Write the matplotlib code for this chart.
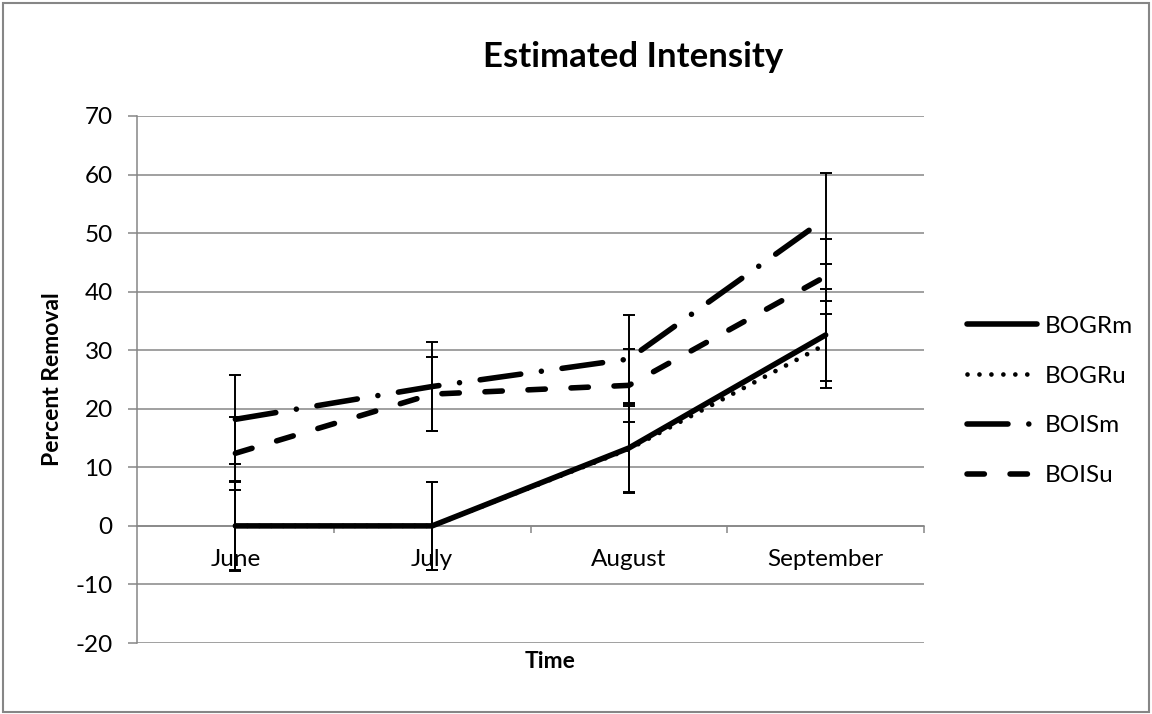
import matplotlib
matplotlib.use('Agg')
import matplotlib.pyplot as plt
from matplotlib.patches import Rectangle

months = ['June', 'July', 'August', 'September']
bogrm = [0, 0, 13.3, 32.6]
bogrm_err = [7.5, 7.5, 7.6, 7.8]
bogru = [0, 0, 13.1, 31.0]
bogru_err = [7.7, 7.5, 7.3, 7.4]
boism = [18.2, 23.8, 28.5, 52.5]
boism_err = [7.6, 7.6, 7.5, 7.7]
boisu = [12.4, 22.5, 24.0, 42.6]
boisu_err = [6.2, 6.3, 6.2, 6.4]
yticks = list(range(-20, 71, 10))

plt.rcParams['font.family'] = ['Lato', 'DejaVu Sans']
plt.rcParams['lines.scale_dashes'] = False

W, H = 1152, 714
fig = plt.figure(figsize=(W / 100, H / 100), dpi=100)
ax = fig.add_axes([137 / W, 1 - 643 / H, (924 - 137) / W, (643 - 116) / H])
x = list(range(len(months)))
grey = '#868686'
fs = 17.5

# error bars first, lines on top
for vals, err in [(bogrm, bogrm_err), (bogru, bogru_err), (boism, boism_err), (boisu, boisu_err)]:
    ax.errorbar(x, vals, yerr=err, fmt='none', ecolor='black', elinewidth=1.4,
                capsize=4.5, capthick=1.4, zorder=3)

ax.plot(x, bogrm, color='black', lw=4.0, solid_capstyle='round', label='BOGRm', zorder=4)
ax.plot(x, bogru, color='black', lw=3.4, dashes=(0.01, 8.6), dash_capstyle='round',
        label='BOGRu', zorder=5)
ax.plot(x, boism, color='black', lw=4.0, dashes=(29.5, 15, 0.01, 15), dash_capstyle='round',
        label='BOISm', zorder=4)
ax.plot(x, boisu, color='black', lw=4.0, dashes=(12.5, 18.5), dash_capstyle='round',
        label='BOISu', zorder=4)

ax.set_xlim(-0.5, 3.5)
ax.set_ylim(-20, 70)
ax.set_yticks(yticks)
ax.set_yticklabels([str(v) for v in yticks])
ax.grid(axis='y', color=grey, lw=1.1)
ax.set_axisbelow(True)

for s in ['top', 'right']:
    ax.spines[s].set_visible(False)
ax.spines['left'].set_color(grey)
ax.spines['left'].set_linewidth(1.1)
ax.spines['bottom'].set_position(('data', 0))
ax.spines['bottom'].set_color(grey)
ax.spines['bottom'].set_linewidth(1.1)

ax.set_xticks(x)
ax.set_xticklabels(months)
ax.set_xticks([0.5, 1.5, 2.5, 3.5], minor=True)
ax.tick_params(axis='x', which='major', length=0, pad=17, labelsize=fs)
ax.tick_params(axis='x', which='minor', length=5, width=1.1, color=grey, direction='out')
ax.tick_params(axis='y', length=6.5, width=1.1, color=grey, pad=11, labelsize=fs)

fig.text(633 / W, 1 - 57 / H, 'Estimated Intensity', fontsize=25, fontweight='bold',
         ha='center', va='center')
fig.text(550 / W, 1 - 662 / H, 'Time', fontsize=16.5, fontweight='bold', ha='center', va='center')
fig.text(53 / W, 1 - 379 / H, 'Percent Removal', fontsize=16.5, fontweight='bold',
         ha='center', va='center', rotation=90)

ax.legend(loc='center left', bbox_to_anchor=(967 / W, 1 - 401 / H), bbox_transform=fig.transFigure,
          frameon=False, fontsize=fs, handlelength=2.9, handletextpad=0.3, labelspacing=1.18,
          borderpad=0, borderaxespad=0)

fig.patches.append(Rectangle((3 / W, 2 / H), (W - 6) / W, (H - 5) / H, transform=fig.transFigure,
                             fill=False, edgecolor=grey, lw=1.5))

fig.savefig('out.png', dpi=100)
